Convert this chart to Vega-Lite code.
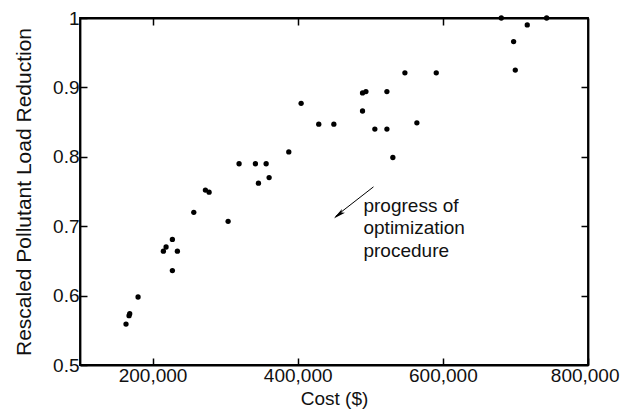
{
  "$schema": "https://vega.github.io/schema/vega-lite/v6.json",
  "width": 508,
  "height": 347,
  "autosize": {"type": "none"},
  "padding": {"left": 80, "top": 18, "right": 32, "bottom": 52},
  "background": "white",
  "view": {"stroke": "#000", "strokeWidth": 1.8},
  "config": {
    "font": "Liberation Sans",
    "axis": {
      "grid": false,
      "domainColor": "#000",
      "domainWidth": 1.8,
      "tickColor": "#000",
      "tickWidth": 1.5,
      "labelFont": "Liberation Sans",
      "labelFontSize": 19,
      "labelColor": "#111",
      "titleFont": "Liberation Sans",
      "titleFontWeight": "normal",
      "titleColor": "#111"
    }
  },
  "datasets": {
    "runs": [
      {"cost": 163400, "reduction": 0.559},
      {"cost": 167600, "reduction": 0.571},
      {"cost": 168500, "reduction": 0.574},
      {"cost": 180000, "reduction": 0.598},
      {"cost": 214900, "reduction": 0.664},
      {"cost": 218600, "reduction": 0.670},
      {"cost": 227300, "reduction": 0.681},
      {"cost": 234200, "reduction": 0.664},
      {"cost": 227300, "reduction": 0.636},
      {"cost": 256800, "reduction": 0.720},
      {"cost": 304100, "reduction": 0.707},
      {"cost": 272800, "reduction": 0.752},
      {"cost": 277900, "reduction": 0.749},
      {"cost": 319200, "reduction": 0.790},
      {"cost": 341700, "reduction": 0.790},
      {"cost": 356500, "reduction": 0.790},
      {"cost": 345900, "reduction": 0.762},
      {"cost": 360600, "reduction": 0.770},
      {"cost": 387700, "reduction": 0.807},
      {"cost": 404700, "reduction": 0.877},
      {"cost": 429000, "reduction": 0.847},
      {"cost": 449800, "reduction": 0.847},
      {"cost": 489300, "reduction": 0.892},
      {"cost": 494000, "reduction": 0.894},
      {"cost": 489300, "reduction": 0.866},
      {"cost": 522900, "reduction": 0.894},
      {"cost": 506300, "reduction": 0.840},
      {"cost": 522900, "reduction": 0.840},
      {"cost": 531100, "reduction": 0.799},
      {"cost": 564200, "reduction": 0.849},
      {"cost": 547700, "reduction": 0.921},
      {"cost": 590900, "reduction": 0.921},
      {"cost": 680500, "reduction": 1.0},
      {"cost": 743000, "reduction": 1.0},
      {"cost": 716300, "reduction": 0.990},
      {"cost": 697500, "reduction": 0.966},
      {"cost": 699800, "reduction": 0.925}
    ],
    "arrow": [
      {"cost": 504400, "reduction": 0.7567, "cost_end": 452000, "reduction_end": 0.7140}
    ],
    "arrowHead": [
      {"cost": 456400, "reduction": 0.7166}
    ],
    "note": [
      {"cost": 490600, "reduction": 0.7207}
    ]
  },
  "layer": [
    {
      "data": {"name": "runs"},
      "mark": {"type": "circle", "size": 28, "color": "#000", "opacity": 1},
      "encoding": {
        "x": {
          "field": "cost", "type": "quantitative",
          "scale": {"domain": [100000, 800000], "nice": false, "zero": false},
          "axis": {
            "orient": "bottom",
            "values": [200000, 400000, 600000, 800000],
            "format": ",d",
            "tickSize": -7,
            "labelFlush": true,
            "labelFlushOffset": 31,
            "labelPadding": 8,
            "title": "Cost ($)",
            "titleFontSize": 19,
            "titlePadding": 4
          }
        },
        "y": {
          "field": "reduction", "type": "quantitative",
          "scale": {"domain": [0.5, 1], "nice": false, "zero": false},
          "axis": {
            "orient": "left",
            "values": [0.5, 0.6, 0.7, 0.8, 0.9, 1],
            "format": "~g",
            "tickSize": -7,
            "labelFlush": false,
            "labelPadding": 8,
            "title": "Rescaled Pollutant Load Reduction",
            "titleFontSize": 21,
            "titlePadding": 18
          }
        }
      }
    },
    {
      "layer": [
        {
          "data": {"name": "arrow"},
          "mark": {"type": "rule", "color": "#000", "strokeWidth": 1},
          "encoding": {
            "x": {"field": "cost", "type": "quantitative",
              "axis": {"orient": "top", "values": [200000, 400000, 600000], "tickSize": -7, "labelOpacity": 0, "title": null}},
            "y": {"field": "reduction", "type": "quantitative",
              "axis": {"orient": "right", "values": [0.6, 0.7, 0.8, 0.9], "tickSize": -7, "labelOpacity": 0, "title": null}},
            "x2": {"field": "cost_end"},
            "y2": {"field": "reduction_end"}
          }
        },
        {
          "data": {"name": "arrowHead"},
          "mark": {
            "type": "point",
            "shape": "M0,-1L0.4,1L0,0.55L-0.4,1Z",
            "size": 150,
            "angle": 231.3,
            "filled": true,
            "color": "#000",
            "opacity": 1
          },
          "encoding": {
            "x": {"field": "cost", "type": "quantitative"},
            "y": {"field": "reduction", "type": "quantitative"}
          }
        },
        {
          "data": {"name": "note"},
          "mark": {
            "type": "text",
            "text": ["progress of", "optimization", "procedure"],
            "align": "left",
            "baseline": "alphabetic",
            "fontSize": 19,
            "lineHeight": 22.5,
            "font": "Liberation Sans",
            "color": "#111"
          },
          "encoding": {
            "x": {"field": "cost", "type": "quantitative"},
            "y": {"field": "reduction", "type": "quantitative"}
          }
        }
      ]
    }
  ],
  "resolve": {"axis": {"x": "independent", "y": "independent"}}
}
